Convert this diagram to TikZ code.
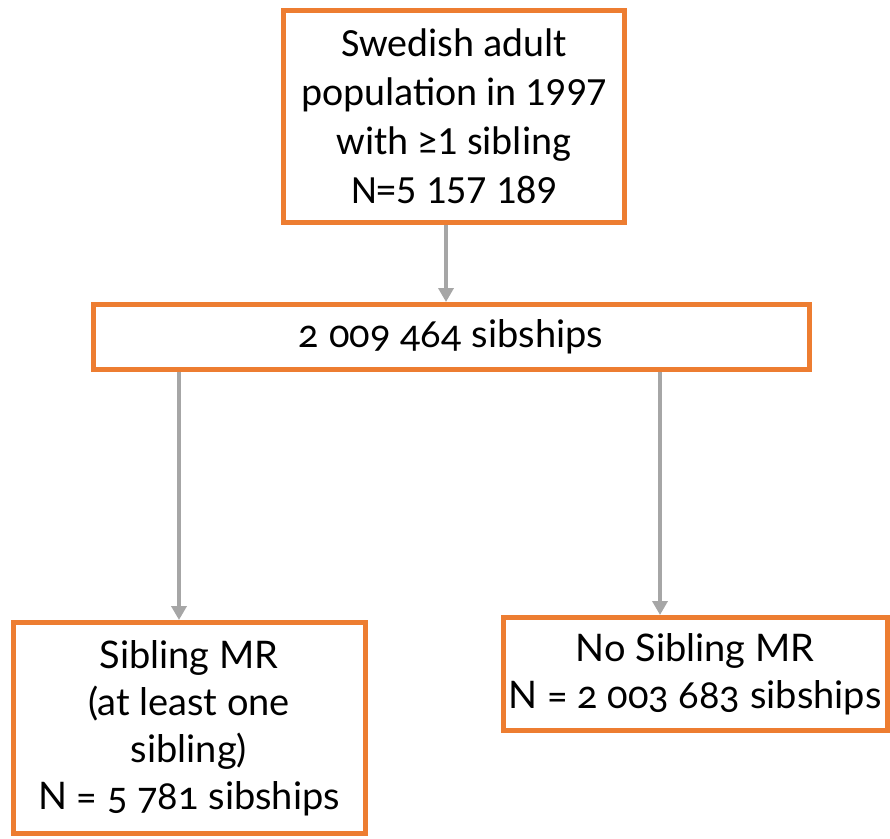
\documentclass[tikz,border=0pt]{standalone}
\usepackage{fontspec}
\setmainfont{Carlito}
\newfontfamily\oldfig[Numbers=OldStyle]{Lato}
\usetikzlibrary{arrows.meta}
\definecolor{boxorange}{HTML}{ED7D31}
\definecolor{arrowgrey}{HTML}{A6A6A6}
\tikzset{
  flowbox/.style={draw=boxorange, line width=5pt, fill=white, rectangle, inner sep=0pt, align=center, text=black},
  arr/.style={draw=arrowgrey, line width=4pt, -{Triangle[width=15pt,length=14pt]}}
}
\begin{document}
\begin{tikzpicture}[x=1pt,y=-1pt]
\useasboundingbox (0,0) rectangle (890,838);
\node[flowbox, minimum width=341pt, minimum height=212pt, font=\fontsize{40}{49}\selectfont] (top) at (454,116)
  {Swedish adult\\population in 1997\\with \char"2265 1 sibling\\N=5 157 189};
\node[flowbox, minimum width=716pt, minimum height=65pt, font=\oldfig\fontsize{38}{48}\selectfont] (mid) at (451,337)
  {2 009 464 sibships};
\node[flowbox, minimum width=352pt, minimum height=211pt, font=\oldfig\fontsize{38}{47}\selectfont] (left) at (189,728)
  {Sibling MR\\(at least one\\sibling)\\N = 5 781 sibships};
\node[flowbox, minimum width=384pt, minimum height=113pt, font=\oldfig\fontsize{38}{47}\selectfont] (right) at (695,674)
  {No Sibling MR\\N = 2 003 683 sibships};
\draw[arr] ([xshift=-8pt]top.south) -- ([xshift=-5pt]mid.north);
\draw[arr] ([xshift=-272pt]mid.south) -- ([xshift=-10pt]left.north);
\draw[arr] ([xshift=209pt]mid.south) -- ([xshift=-35pt]right.north);
\end{tikzpicture}
\end{document}
